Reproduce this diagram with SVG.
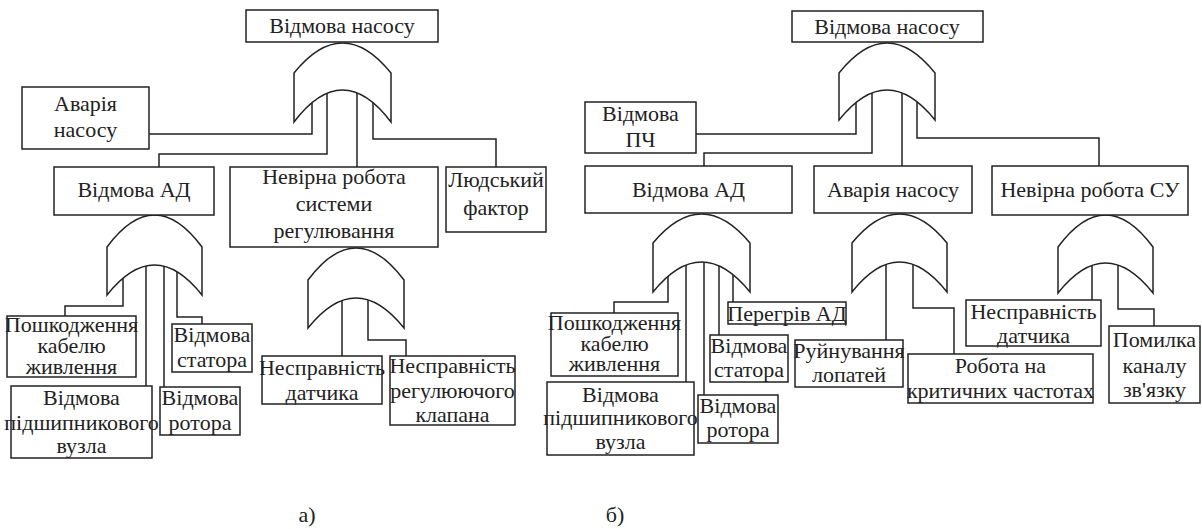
<svg xmlns="http://www.w3.org/2000/svg" width="1202" height="529" viewBox="0 0 1202 529">
<style>
.b{fill:#fff;stroke:#222;stroke-width:1.5}
.g{fill:#fff;stroke:#222;stroke-width:1.5;stroke-linejoin:miter}
.c{fill:none;stroke:#222;stroke-width:1.5}
</style>
<rect width="1202" height="529" fill="#fff"/>
<g id="connectors">
<path class="c" d="M312,90 V134 H149 M327,90 V154 H159 V167 M357,90 V167 M373,90 V139 H496 V167"/>
<path class="c" d="M123,265 V306 H65 V316 M146,265 V386 M164,265 V387 M177,265 V317 H202 V324"/>
<path class="c" d="M342,298 V356 M368,298 V340 H406 V356"/>
<path class="c" d="M856,90 V134 H696 M872,90 V153 H704 V166 M902,90 V166 M917,90 V138 H1099 V166"/>
<path class="c" d="M668,262 V302 H614 V313 M686,262 V382 M704,262 V395 M719,262 V335 M733,262 V302"/>
<path class="c" d="M886,262 V340 M913,262 V308 H954 V354"/>
<path class="c" d="M1092,263 V300 M1118,263 V309 H1154 V326"/>
</g>
<g id="gate-a1"><path class="g" d="M294,73 Q342.5,13 391,73 V122 Q342.5,58 294,122 Z"/></g>
<g id="gate-a2"><path class="g" d="M107,247 Q154.5,183 202,247 V295 Q154.5,235 107,295 Z"/></g>
<g id="gate-a3"><path class="g" d="M308,280 Q356,216 404,280 V328 Q356,268 308,328 Z"/></g>
<g id="gate-b1"><path class="g" d="M839,73 Q887,13 935,73 V120 Q887,60 839,120 Z"/></g>
<g id="gate-b2"><path class="g" d="M653,243 Q701.5,185 750,243 V292 Q701.5,232 653,292 Z"/></g>
<g id="gate-b3"><path class="g" d="M852,243 Q899.5,185 947,243 V292 Q899.5,232 852,292 Z"/></g>
<g id="gate-b4"><path class="g" d="M1058,247 Q1105.5,183 1153,247 V293 Q1105.5,233 1058,293 Z"/></g>
<g font-size="22" fill="#222" text-anchor="middle">
<g id="a-top"><rect class="b" x="246" y="10" width="192" height="32"/><text font-family="Liberation Serif" x="342" y="33">Відмова насосу</text></g>
<g id="a-avaria"><rect class="b" x="22" y="87" width="127" height="62"/><text font-family="Liberation Serif" x="85.5" y="111">Аварія</text><text font-family="Liberation Serif" x="85.5" y="137">насосу</text></g>
<g id="a-ad"><rect class="b" x="54" y="167" width="160" height="48"/><text font-family="Liberation Serif" x="134" y="197">Відмова АД</text></g>
<g id="a-nevirna"><rect class="b" x="230" y="167" width="208" height="80"/><text font-family="Liberation Serif" x="334" y="184">Невірна робота</text><text font-family="Liberation Serif" x="334" y="211">системи</text><text font-family="Liberation Serif" x="334" y="238">регулювання</text></g>
<g id="a-lyudskyi"><rect class="b" x="446" y="167" width="100" height="65"/><text font-family="Liberation Serif" x="496" y="187">Людський</text><text font-family="Liberation Serif" x="496" y="215">фактор</text></g>
<g id="a-kabel"><rect class="b" x="7" y="316" width="129" height="61"/><text font-family="Liberation Serif" x="71.5" y="332">Пошкодження</text><text font-family="Liberation Serif" x="71.5" y="353">кабелю</text><text font-family="Liberation Serif" x="71.5" y="374">живлення</text></g>
<g id="a-pidshyp"><rect class="b" x="11" y="386" width="141" height="72"/><text font-family="Liberation Serif" x="81.5" y="405">Відмова</text><text font-family="Liberation Serif" x="81.5" y="430">підшипникового</text><text font-family="Liberation Serif" x="81.5" y="453">вузла</text></g>
<g id="a-rotor"><rect class="b" x="160" y="387" width="80" height="48"/><text font-family="Liberation Serif" x="200" y="405">Відмова</text><text font-family="Liberation Serif" x="200" y="430">ротора</text></g>
<g id="a-stator"><rect class="b" x="172" y="324" width="80" height="48"/><text font-family="Liberation Serif" x="212" y="342">Відмова</text><text font-family="Liberation Serif" x="212" y="367">статора</text></g>
<g id="a-datchyk"><rect class="b" x="262" y="356" width="120" height="48"/><text font-family="Liberation Serif" x="322" y="375">Несправність</text><text font-family="Liberation Serif" x="322" y="400">датчика</text></g>
<g id="a-klapan"><rect class="b" x="390" y="356" width="125" height="69"/><text font-family="Liberation Serif" x="452.5" y="373">Несправність</text><text font-family="Liberation Serif" x="452.5" y="398">регулюючого</text><text font-family="Liberation Serif" x="452.5" y="422">клапана</text></g>

<g id="b-top"><rect class="b" x="792" y="11" width="191" height="31"/><text font-family="Liberation Serif" x="887" y="34">Відмова насосу</text></g>
<g id="b-pch"><rect class="b" x="585" y="102" width="111" height="51"/><text font-family="Liberation Serif" x="640.5" y="121">Відмова</text><text font-family="Liberation Serif" x="640.5" y="147">ПЧ</text></g>
<g id="b-ad"><rect class="b" x="585" y="166" width="207" height="47"/><text font-family="Liberation Serif" x="688.5" y="197">Відмова АД</text></g>
<g id="b-avaria"><rect class="b" x="814" y="166" width="158" height="47"/><text font-family="Liberation Serif" x="893" y="197">Аварія насосу</text></g>
<g id="b-su"><rect class="b" x="992" y="166" width="196" height="49"/><text font-family="Liberation Serif" x="1090" y="197">Невірна робота СУ</text></g>
<g id="b-kabel"><rect class="b" x="551" y="313" width="127" height="63"/><text font-family="Liberation Serif" x="614.5" y="330">Пошкодження</text><text font-family="Liberation Serif" x="614.5" y="351">кабелю</text><text font-family="Liberation Serif" x="614.5" y="371">живлення</text></g>
<g id="b-pidshyp"><rect class="b" x="547" y="382" width="147" height="73"/><text font-family="Liberation Serif" x="620.5" y="402">Відмова</text><text font-family="Liberation Serif" x="620.5" y="425">підшипникового</text><text font-family="Liberation Serif" x="620.5" y="449">вузла</text></g>
<g id="b-rotor"><rect class="b" x="698" y="395" width="80" height="48"/><text font-family="Liberation Serif" x="738" y="413">Відмова</text><text font-family="Liberation Serif" x="738" y="437">ротора</text></g>
<g id="b-stator"><rect class="b" x="710" y="335" width="78" height="47"/><text font-family="Liberation Serif" x="749" y="353">Відмова</text><text font-family="Liberation Serif" x="749" y="377">статора</text></g>
<g id="b-peregriv"><rect class="b" x="728" y="302" width="118" height="22"/><text font-family="Liberation Serif" x="787" y="321">Перегрів АД</text></g>
<g id="b-lopatei"><rect class="b" x="795" y="340" width="108" height="47"/><text font-family="Liberation Serif" x="849" y="358">Руйнування</text><text font-family="Liberation Serif" x="849" y="382">лопатей</text></g>
<g id="b-chastoty"><rect class="b" x="908" y="354" width="185" height="49"/><text font-family="Liberation Serif" x="1000.5" y="373">Робота на</text><text font-family="Liberation Serif" x="1000.5" y="398">критичних частотах</text></g>
<g id="b-datchyk"><rect class="b" x="966" y="300" width="135" height="46"/><text font-family="Liberation Serif" x="1033.5" y="319">Несправність</text><text font-family="Liberation Serif" x="1033.5" y="343">датчика</text></g>
<g id="b-kanal"><rect class="b" x="1109" y="326" width="91" height="77"/><text font-family="Liberation Serif" x="1154.5" y="347">Помилка</text><text font-family="Liberation Serif" x="1154.5" y="373">каналу</text><text font-family="Liberation Serif" x="1154.5" y="397">зв'язку</text></g>
<text font-family="Liberation Serif" x="307" y="522">а)</text>
<text font-family="Liberation Serif" x="615" y="522">б)</text>
</g>
</svg>
